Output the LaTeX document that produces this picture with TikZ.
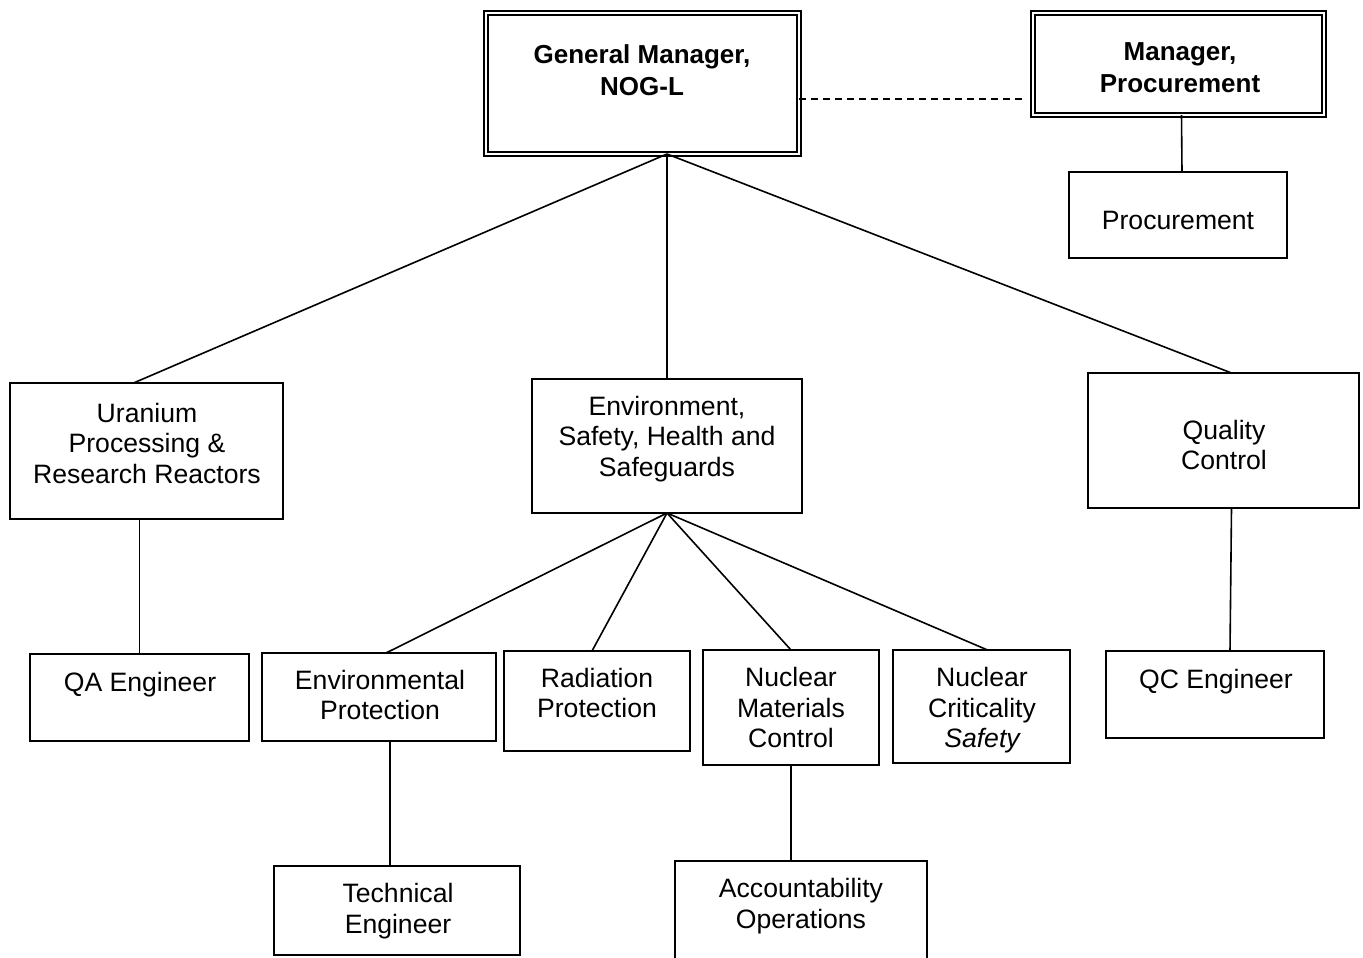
\documentclass[tikz,border=0pt]{standalone}
\usepackage{fontspec}
\setmainfont{Liberation Sans}
\usetikzlibrary{calc}
\begin{document}
\begin{tikzpicture}[x=1pt,y=-1pt,
  box/.style={draw, line width=1.7pt, rectangle, inner sep=0pt, outer sep=0pt},
  dbox/.style={draw, line width=1.7pt, double, double distance=2.6pt, rectangle, inner sep=0pt, outer sep=0pt},
  lbl/.style={align=center, font=\fontsize{26.6}{30.5}\selectfont, inner sep=0pt},
  blbl/.style={align=center, font=\bfseries\fontsize{26}{32}\selectfont, inner sep=0pt},
  conn/.style={line width=1.6pt},
  dconn/.style={line width=1.3pt, dash pattern=on 7pt off 5pt}]
\useasboundingbox (0,0) rectangle (1363,958);
\clip (0,0) rectangle (1363,958);
\fill[white] (0,0) rectangle (1363,958);

% boxes
\node[dbox, minimum width=313pt, minimum height=141pt] (gm) at (642.5,83.5) {};
\node[dbox, minimum width=291pt, minimum height=102pt] (mproc) at (1178.5,64) {};
\node[box, minimum width=218pt, minimum height=86pt] (proc) at (1178,215) {};
\node[box, minimum width=273pt, minimum height=136pt] (upr) at (146.5,451) {};
\node[box, minimum width=270pt, minimum height=134pt] (esh) at (667,446) {};
\node[box, minimum width=271pt, minimum height=135pt] (qc) at (1223.5,440.5) {};
\node[box, minimum width=219pt, minimum height=87pt] (qa) at (139.5,697.5) {};
\node[box, minimum width=234pt, minimum height=88pt] (envp) at (379,697) {};
\node[box, minimum width=186pt, minimum height=100pt] (radp) at (597,701) {};
\node[box, minimum width=176pt, minimum height=115pt] (nmc) at (791,707.5) {};
\node[box, minimum width=177pt, minimum height=113pt] (ncs) at (981.5,706.5) {};
\node[box, minimum width=218pt, minimum height=87pt] (qce) at (1215,694.5) {};
\node[box, minimum width=246pt, minimum height=89pt] (tech) at (397,910.5) {};
\node[box, minimum width=252pt, minimum height=114pt] (acc) at (801,918) {};

% texts
\node[blbl] (gm-t) at (642,70) {General Manager,\\NOG-L};
\node[blbl] (mproc-t) at (1180,68) {Manager,\\Procurement};
\node[lbl] (proc-t) at (1178,220) {Procurement};
\node[lbl] (upr-t) at (147,443) {Uranium\\Processing \&\\Research Reactors};
\node[lbl] (esh-t) at (667,439) {Environment,\\Safety, Health and\\Safeguards};
\node[lbl] (qc-t) at (1224,445) {Quality\\Control};
\node[lbl] (qa-t) at (140,685) {QA Engineer};
\node[lbl] (envp-t) at (380,695) {Environmental\\Protection};
\node[lbl] (radp-t) at (597,693) {Radiation\\Protection};
\node[lbl] (nmc-t) at (791,707.5) {Nuclear\\Materials\\Control};
\node[lbl] (ncs-t) at (982,710.5) {Nuclear\\Criticality\\\itshape Safety};
\node[lbl] (qce-t) at (1216,682) {QC Engineer};
\node[lbl] (tech-t) at (398,911) {Technical\\Engineer};
\node[lbl] (acc-t) at (801,906) {Accountability\\Operations};

% connectors
\coordinate (gmo) at (gm.south -| esh.north);
\draw[conn] (gmo) -- ($(upr.north)+(-13,0)$);
\draw[conn] (gmo) -- (esh.north);
\draw[conn] (gmo) -- ($(qc.north)+(8,0)$);
\draw[conn] ($(mproc.south)+(3,0)$) -- ($(proc.north)+(4,0)$);
\coordinate (dend) at ($(mproc.west)+(-10,35)$);
\draw[dconn] ($(gm.east)+(0,15.5)$) -- (dend);
\draw[conn] (upr.south -| qa.north) -- (qa.north);
\draw[conn] (esh.south) -- ($(envp.north)+(7,0)$);
\draw[conn] (esh.south) -- ($(radp.north)+(-5,0)$);
\draw[conn] (esh.south) -- (nmc.north);
\draw[conn] (esh.south) -- ($(ncs.north)+(6,0)$);
\draw[conn] ($(qc.south)+(8,0)$) -- ($(qce.north)+(15,0)$);
\draw[conn] ($(envp.south)+(11,0)$) -- ($(tech.north)+(-7,0)$);
\draw[conn] (nmc.south) -- (nmc.south |- acc.north);
\end{tikzpicture}
\end{document}
